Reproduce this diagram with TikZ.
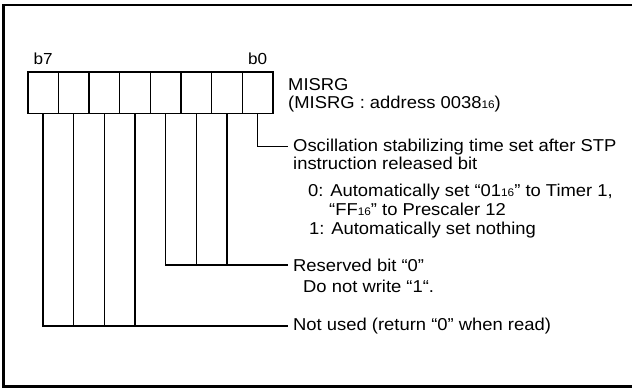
\documentclass[tikz,border=0pt]{standalone}
\usepackage{fontspec}
\setmainfont{Liberation Sans}[FakeStretch=1.07]
\usetikzlibrary{positioning}
\newcommand\hexsub[1]{{\fontsize{11}{11}\selectfont #1}}
\begin{document}
\begin{tikzpicture}[x=1pt,y=-1pt,
  cell/.style={draw,line width=1.6pt,minimum width=30.66pt,minimum height=41.6pt,inner sep=0pt},
  bitno/.style={inner sep=0pt,anchor=south,font=\fontsize{16}{16}\selectfont},
  txt/.style={inner xsep=5pt,inner ysep=0pt,anchor=base west,font=\fontsize{17.2}{18}\selectfont},
  wire/.style={line width=1.3pt}]
\useasboundingbox (0,0) rectangle (632,388);
\clip (0,0) rectangle (632,388);
\draw[line width=2.4pt] (3.5,5) rectangle (660,386.5);
% register cells, b7 on the left
\foreach \i in {0,...,7}
  \node[cell] (c\i) at ({43.03+30.66*(7-\i)},92.5) {};
\node[bitno] (n7) at ([yshift=5.7pt]c7.north) {b7};
\node[bitno] (n0) at ([yshift=5.7pt]c0.north) {b0};
% texts
\node[txt] (reg)  at (283,90.5) {MISRG};
\node[txt] (addr) at (283,108.5) {(MISRG : address 0038\hexsub{16})};
\node[txt] (osc)  at (288,151) {Oscillation stabilizing time set after STP};
\node[txt] (osc2) at (288,169) {instruction released bit};
\node[txt] (osc3) at (303,196) {0: Automatically set “01\hexsub{16}” to Timer 1,};
\node[txt] (osc4) at (324,215) {“FF\hexsub{16}” to Prescaler 12};
\node[txt] (osc5) at (304,234) {1: Automatically set nothing};
\node[txt] (resv) at (288,271) {Reserved bit “0”};
\node[txt] (resv2) at (298,292) {Do not write “1“.};
\node[txt] (unus) at (288,330.5) {Not used (return “0” when read)};
% connectors
\draw[wire] (c0.south) |- (osc.west);
\draw[wire] (c3.south) |- (resv.west);
\foreach \i in {1,2}
  \draw[wire] (c\i.south) -- (c\i.south |- resv.west);
\draw[wire] (c7.south) |- (unus.west);
\foreach \i in {4,5,6}
  \draw[wire] (c\i.south) -- (c\i.south |- unus.west);
\end{tikzpicture}
\end{document}
